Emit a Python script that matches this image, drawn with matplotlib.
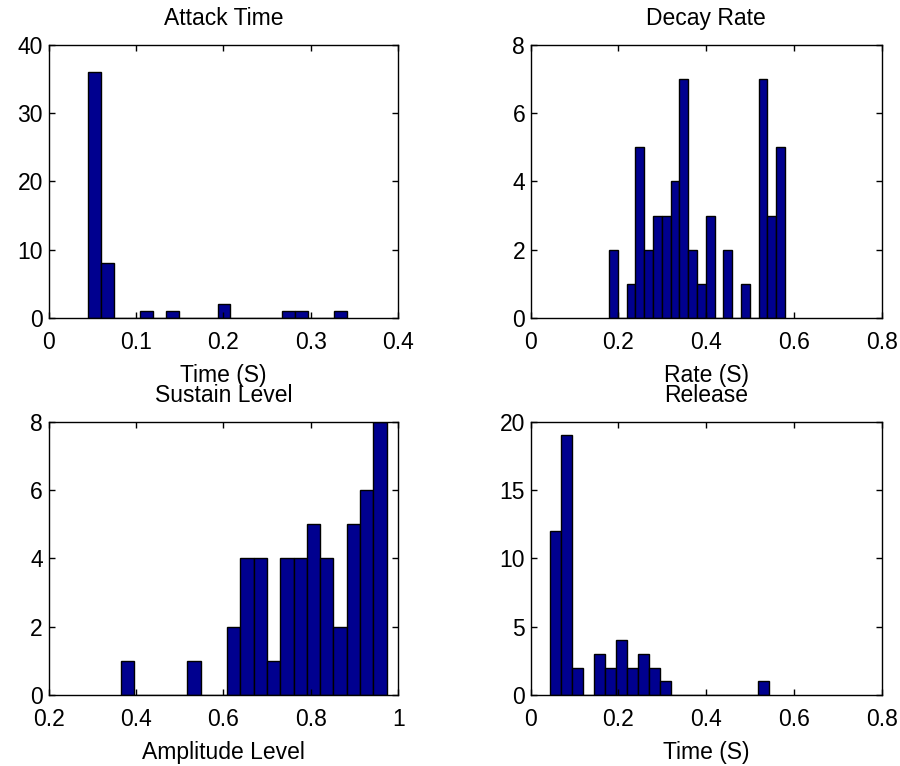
import numpy as np
import matplotlib
matplotlib.use("Agg")
import matplotlib.pyplot as plt

plt.rcParams['font.family'] = ['Liberation Sans', 'DejaVu Sans']
plt.rcParams['font.size'] = 16.5

# histogram counts, 20 bins each, between the min and max of each parameter
attack_counts = [36, 8, 0, 0, 1, 0, 1, 0, 0, 0, 2, 0, 0, 0, 0, 1, 1, 0, 0, 1]
attack_range = (0.0455, 0.341)

decay_counts = [2, 0, 1, 5, 2, 3, 3, 4, 7, 2, 1, 3, 0, 2, 0, 1, 0, 7, 3, 5]
decay_range = (0.1785, 0.5796)

sustain_counts = [1, 0, 0, 0, 0, 1, 0, 0, 2, 4, 4, 1, 4, 4, 5, 4, 2, 5, 6, 8]
sustain_range = (0.3657, 0.973)

release_counts = [12, 19, 2, 0, 3, 2, 4, 2, 3, 2, 1, 0, 0, 0, 0, 0, 0, 0, 0, 1]
release_range = (0.0443, 0.5438)

panels = [
    ("Attack Time", "Time (S)", attack_counts, attack_range, (0, 0.4), [0, 0.1, 0.2, 0.3, 0.4], (0, 40), [0, 10, 20, 30, 40]),
    ("Decay Rate", "Rate (S)", decay_counts, decay_range, (0, 0.8), [0, 0.2, 0.4, 0.6, 0.8], (0, 8), [0, 2, 4, 6, 8]),
    ("Sustain Level", "Amplitude Level", sustain_counts, sustain_range, (0.2, 1), [0.2, 0.4, 0.6, 0.8, 1], (0, 8), [0, 2, 4, 6, 8]),
    ("Release", "Time (S)", release_counts, release_range, (0, 0.8), [0, 0.2, 0.4, 0.6, 0.8], (0, 20), [0, 5, 10, 15, 20]),
]

rects = [
    [0.0539, 0.5849, 0.3887, 0.3564],
    [0.5897, 0.5849, 0.3900, 0.3564],
    [0.0539, 0.0927, 0.3887, 0.3568],
    [0.5897, 0.0927, 0.3900, 0.3568],
]

fig = plt.figure(figsize=(9, 7.66), dpi=100)

for rect, (title, xlabel, counts, (lo, hi), xlim, xticks, ylim, yticks) in zip(rects, panels):
    ax = fig.add_axes(rect)
    edges = np.linspace(lo, hi, len(counts) + 1)
    ax.bar(edges[:-1], counts, width=np.diff(edges), align='edge',
           color='#00008F', edgecolor='black', linewidth=1.0)
    ax.set_xlim(*xlim)
    ax.set_ylim(*ylim)
    ax.set_xticks(xticks)
    ax.set_xticklabels([f"{t:g}" for t in xticks])
    ax.set_yticks(yticks)
    ax.set_title(title, pad=14.5, fontsize=16.5)
    ax.set_xlabel(xlabel, labelpad=7)
    ax.tick_params(direction='in', top=True, right=True, length=4, width=1)
    ax.tick_params(axis='x', pad=9.5)
    ax.tick_params(axis='y', pad=4)
    for s in ax.spines.values():
        s.set_linewidth(1.0)

fig.savefig("out.png", dpi=100)
